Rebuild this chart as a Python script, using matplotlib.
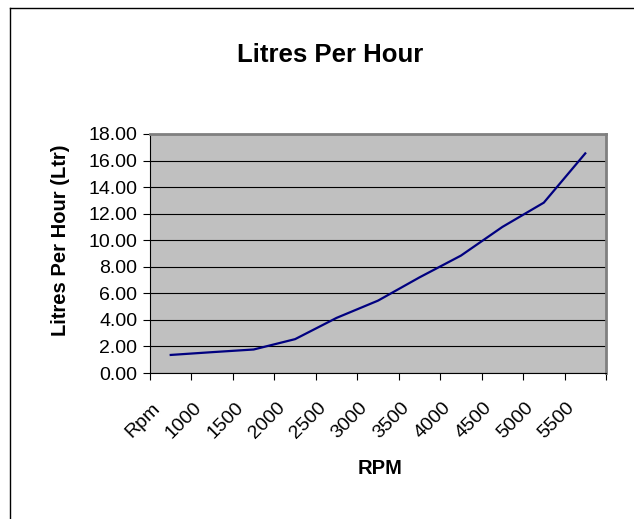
import matplotlib.pyplot as plt
from matplotlib.lines import Line2D
from matplotlib.transforms import ScaledTranslation

plt.rcParams['font.family'] = ['Liberation Sans', 'DejaVu Sans']

rpm_labels = ['Rpm', '1000', '1500', '2000', '2500', '3000', '3500', '4000', '4500', '5000', '5500']
litres = [1.36, 1.57, 1.77, 2.55, 4.15, 5.45, 7.2, 8.84, 11.0, 12.83, 16.54]

fig = plt.figure(figsize=(6.34, 5.19), dpi=100)
ax = fig.add_axes([150/634, 1-373/519, 456/634, 239/519])
ax.set_facecolor('#C0C0C0')

x = [i + 0.5 for i in range(len(litres))]
ax.plot(x, litres, color='#000080', lw=1.6, solid_joinstyle='round')

ax.set_xlim(0, len(rpm_labels))
ax.set_ylim(0, 18)
ax.set_yticks(range(0, 19, 2))
ax.set_yticklabels(['%.2f' % v for v in range(0, 19, 2)], fontsize=14)
ax.yaxis.grid(True, color='black', lw=0.8)
ax.set_axisbelow(True)

ax.set_xticks(range(len(rpm_labels) + 1))
ax.set_xticklabels([])
ax.set_xticks(x, minor=True)
ax.set_xticklabels(rpm_labels, minor=True, rotation=45, ha='right',
                   rotation_mode='anchor', fontsize=14)
ax.tick_params(axis='x', which='minor', length=0, pad=19)
ax.tick_params(axis='y', which='major', pad=4)
ax.tick_params(axis='both', which='major', length=5, width=0.8, direction='out')

# shift the slanted labels left like Excel does
shift = ScaledTranslation(-0.19, 0, fig.dpi_scale_trans)
for lab in ax.get_xticklabels(minor=True):
    lab.set_transform(lab.get_transform() + shift)

for s in ['top', 'right']:
    ax.spines[s].set_color('#808080')
    ax.spines[s].set_linewidth(2)
for s in ['left', 'bottom']:
    ax.spines[s].set_color('black')
    ax.spines[s].set_linewidth(0.8)

fig.text(330/634, 1-55/519, 'Litres Per Hour', ha='center', va='center',
         fontsize=18.5, fontweight='bold')
fig.text(60/634, 1-240/519, 'Litres Per Hour (Ltr)', ha='center', va='center',
         rotation=90, fontsize=14.5, fontweight='bold')
fig.text(380/634, 1-469/519, 'RPM', ha='center', va='center',
         fontsize=14.5, fontweight='bold')

# chart border (top and left only visible)
fig.add_artist(Line2D([10/634, 10/634], [0, 1-8/519], color='black', lw=1))
fig.add_artist(Line2D([10/634, 1], [1-8/519, 1-8/519], color='black', lw=1))

fig.savefig('out.png', dpi=100)
